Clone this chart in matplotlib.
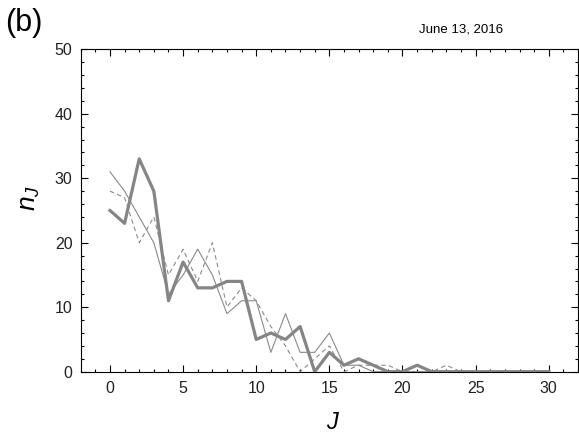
import numpy as np
import matplotlib
matplotlib.use('Agg')
import matplotlib.pyplot as plt
from matplotlib.ticker import MultipleLocator

plt.rcParams['font.family'] = 'Liberation Sans'
plt.rcParams['mathtext.fontset'] = 'custom'
plt.rcParams['mathtext.rm'] = 'Liberation Sans'
plt.rcParams['mathtext.it'] = 'Liberation Sans:italic'

# occupation numbers n_J for three runs
J = np.arange(0, 31)
n_main = [25, 23, 33, 28, 11, 17, 13, 13, 14, 14, 5, 6, 5, 7, 0, 3, 1, 2, 1, 0,
          0, 1, 0, 0, 0, 0, 0, 0, 0, 0, 0]
n_thin = [31, 28, 24, 20, 12, 15, 19, 15, 9, 11, 11, 3, 9, 3, 3, 6, 1, 1, 0, 0,
          0, 0, 0, 0, 0, 0, 0, 0, 0, 0, 0]
n_dash = [28, 27, 20, 24, 15, 19, 14, 20, 10, 13, 11, 7, 4, 0, 2, 4, 0, 1, 1, 1,
          0, 0, 0, 1, 0, 0, 0, 0, 0, 0, 0]

fig = plt.figure(figsize=(5.79, 4.33), dpi=100)
ax = fig.add_axes([0.1394, 0.1416, 0.8589, 0.7446])

ax.plot(J, n_dash, color='#8a8a8a', lw=0.8, linestyle=(0, (4, 3)))
ax.plot(J, n_thin, color='#8a8a8a', lw=0.8)
ax.plot(J, n_main, color='#858585', lw=2.3)

ax.set_xlim(-2, 32)
ax.set_ylim(0, 50)
ax.xaxis.set_major_locator(MultipleLocator(5))
ax.xaxis.set_minor_locator(MultipleLocator(1))
ax.yaxis.set_major_locator(MultipleLocator(10))
ax.yaxis.set_minor_locator(MultipleLocator(2))
ax.tick_params(which='both', direction='in', top=True, right=True, width=0.8)
ax.tick_params(which='major', length=4.8, labelsize=11.5, pad=7, labelcolor='#222222')
ax.tick_params(which='minor', length=2.4)
ax.tick_params(axis='y', which='major', pad=6)
for sp in ax.spines.values():
    sp.set_linewidth(0.8)

ax.set_xlabel('$J$', fontsize=17, va='top')
ax.xaxis.set_label_coords(0.507, -0.124)
ax.set_ylabel('$n_J$', fontsize=19, va='center')
ax.yaxis.set_label_coords(-0.102, 0.539)

fig.text(5 / 579, 1 - 23.5 / 433, '(b)', fontsize=22, ha='left', va='center')
fig.text(503 / 579, 1 - 30 / 433, 'June 13, 2016', fontsize=9.5, ha='right', va='center')

fig.savefig('out.png', dpi=100)
